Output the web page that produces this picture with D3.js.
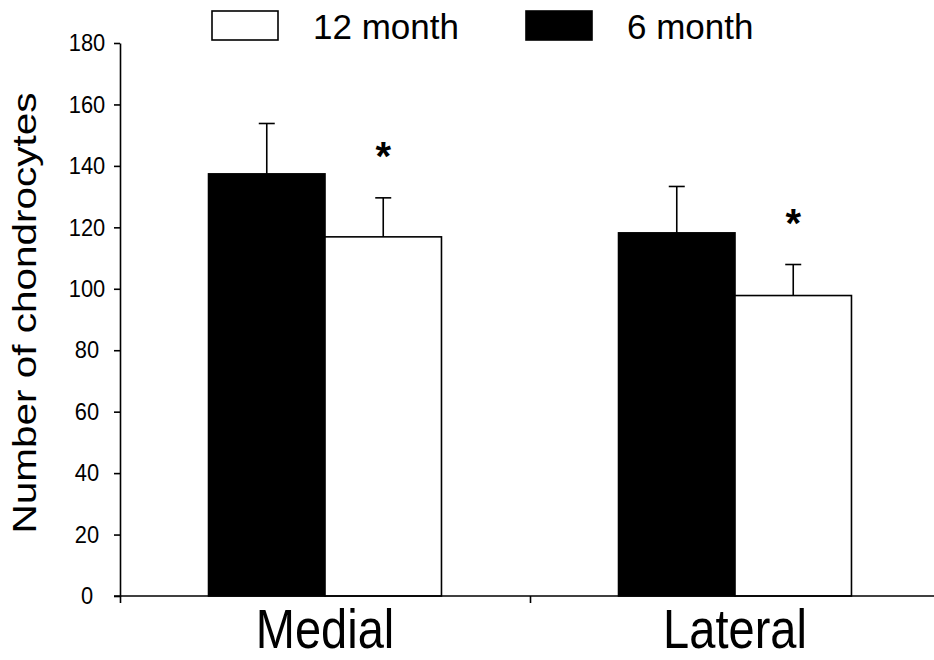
<!DOCTYPE html>
<html>
<head>
<meta charset="utf-8">
<script src="https://cdn.jsdelivr.net/npm/d3@7"></script>
<style>
  html, body { margin: 0; padding: 0; background: #fff; }
  svg { display: block; }
  text { font-family: "Liberation Sans", Arial, sans-serif; fill: #000; }
</style>
</head>
<body>
<svg id="chart" width="934" height="660"></svg>
<script>
// ---- data ----
const categories = ["Medial", "Lateral"];
const seriesNames = ["6 month", "12 month"];
const legendOrder = ["12 month", "6 month"];
const values6 = [137.4, 118.2];
const errors6 = [16.4, 15.1];
const values12 = [116.9, 97.8];
const errors12 = [12.7, 10.1];
const significant12 = [true, true];
const yTicks = [0, 20, 40, 60, 80, 100, 120, 140, 160, 180];
const yTitle = "Number of chondrocytes";

const fills = { "6 month": "#000", "12 month": "#fff" };

const svg = d3.select("#chart");
const plotLeft = 120, plotRight = 940, plotTop = 43, plotBottom = 596;

const x = d3.scaleBand().domain(categories).range([plotLeft, plotRight]).paddingInner(0).paddingOuter(0);
const xs = d3.scaleBand().domain(seriesNames).range([0, x.bandwidth()]).paddingInner(0).paddingOuter(0.76);
const y = d3.scaleLinear().domain([0, 180]).range([plotBottom, plotTop]);

const rows = [];
categories.forEach((c, i) => {
  rows.push({ cat: c, s: "6 month", v: values6[i], e: errors6[i], star: false });
  rows.push({ cat: c, s: "12 month", v: values12[i], e: errors12[i], star: significant12[i] });
});

// bars
svg.append("g").selectAll("rect").data(rows).join("rect")
  .attr("x", d => x(d.cat) + xs(d.s))
  .attr("y", d => y(d.v))
  .attr("width", xs.bandwidth())
  .attr("height", d => y(0) - y(d.v))
  .attr("fill", d => fills[d.s])
  .attr("stroke", "#000")
  .attr("stroke-width", 1.6);

// error bars (upper only)
const eg = svg.append("g").attr("stroke", "#000").attr("stroke-width", 1.6);
rows.forEach(d => {
  const cx = x(d.cat) + xs(d.s) + xs.bandwidth() / 2;
  eg.append("line").attr("x1", cx).attr("x2", cx).attr("y1", y(d.v)).attr("y2", y(d.v + d.e));
  eg.append("line").attr("x1", cx - 8).attr("x2", cx + 8).attr("y1", y(d.v + d.e)).attr("y2", y(d.v + d.e));
});

// asterisks
svg.append("g").selectAll("text").data(rows.filter(d => d.star)).join("text")
  .attr("x", d => x(d.cat) + xs(d.s) + xs.bandwidth() / 2)
  .attr("y", d => y(d.v + d.e) - 28)
  .attr("text-anchor", "middle")
  .attr("font-size", 40)
  .attr("font-weight", "bold")
  .text("*");

// y axis
const yAxis = svg.append("g").attr("transform", `translate(${plotLeft},0)`)
  .call(d3.axisLeft(y).tickValues(yTicks).tickSize(6).tickSizeOuter(0).tickFormat(d3.format("d")));
yAxis.select(".domain").attr("stroke-width", 1.6);
yAxis.selectAll(".tick line").attr("stroke-width", 1.6);
yAxis.selectAll(".tick text")
  .attr("x", 0)
  .attr("transform", "translate(-33,0) scale(0.91,1)")
  .attr("text-anchor", "middle")
  .attr("font-size", 24)
  .attr("font-family", "Liberation Sans, Arial, sans-serif");

// x axis with ticks at category boundaries
const xb = d3.scaleLinear().domain([0, categories.length]).range([plotLeft, plotRight]);
const xAxis = svg.append("g").attr("transform", `translate(0,${plotBottom})`)
  .call(d3.axisBottom(xb).tickValues(d3.range(categories.length + 1)).tickSize(7).tickSizeOuter(0).tickFormat(""));
xAxis.select(".domain").attr("d", `M${plotLeft - 6},0H${plotRight}`).attr("stroke-width", 1.6);
xAxis.selectAll(".tick line").attr("stroke-width", 1.6);

// category labels
svg.append("g").selectAll("text").data(categories).join("text")
  .attr("transform", d => `translate(${x(d) + x.bandwidth() / 2},648) scale(0.84,1)`)
  .attr("text-anchor", "middle")
  .attr("font-size", 56)
  .text(d => d);

// y title
svg.append("text")
  .attr("transform", "translate(36,313) scale(0.82,1) rotate(-90)")
  .attr("text-anchor", "middle")
  .attr("font-size", 40.5)
  .text(yTitle);

// legend
const legendX = [212, 526];
const lg = svg.append("g");
legendOrder.forEach((s, i) => {
  lg.append("rect").attr("x", legendX[i]).attr("y", 11).attr("width", 66).attr("height", 29)
    .attr("fill", fills[s]).attr("stroke", "#000").attr("stroke-width", 1.6);
  lg.append("text").attr("x", legendX[i] + 101).attr("y", 39)
    .attr("font-size", 35).text(s);
});
</script>
</body>
</html>
